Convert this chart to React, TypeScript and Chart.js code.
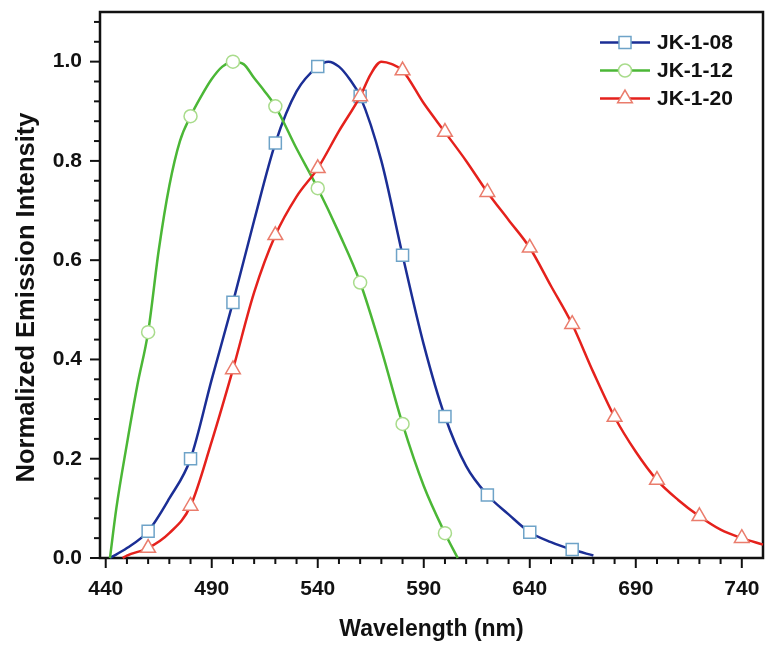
import React, { useEffect, useRef } from 'react';
import { Chart, registerables } from 'chart.js';

Chart.register(...registerables);

const FONT = '"Liberation Sans", Arial, Helvetica, sans-serif';

// ---- Data ----
const seriesNames = ['JK-1-08', 'JK-1-12', 'JK-1-20'];

const wl08 = [442, 450, 460, 470, 480, 490, 500, 510, 520, 530, 540, 545, 550, 555, 560, 570, 580, 590, 600, 610, 620, 630, 640, 650, 660, 670];
const int08 = [0, 0.02, 0.054, 0.12, 0.2, 0.36, 0.515, 0.68, 0.836, 0.94, 0.99, 1.0, 0.99, 0.965, 0.93, 0.8, 0.61, 0.43, 0.285, 0.185, 0.127, 0.088, 0.052, 0.032, 0.017, 0.005];

const wl12 = [442, 445, 450, 455, 460, 465, 470, 475, 480, 485, 490, 495, 500, 505, 510, 515, 520, 530, 540, 550, 560, 570, 580, 590, 600, 606];
const int12 = [0, 0.1, 0.23, 0.35, 0.455, 0.62, 0.75, 0.84, 0.89, 0.93, 0.965, 0.99, 1.0, 0.995, 0.967, 0.94, 0.91, 0.825, 0.745, 0.655, 0.555, 0.42, 0.27, 0.145, 0.05, 0];

const wl20 = [448, 450, 460, 470, 480, 490, 500, 510, 520, 530, 540, 550, 560, 565, 570, 575, 580, 590, 600, 610, 620, 630, 640, 650, 660, 670, 680, 690, 700, 710, 720, 730, 740, 750];
const int20 = [0, 0.005, 0.02, 0.05, 0.105, 0.235, 0.38, 0.535, 0.65, 0.728, 0.785, 0.86, 0.93, 0.975, 1.0, 0.995, 0.982, 0.916, 0.858, 0.8, 0.737, 0.681, 0.625, 0.548, 0.471, 0.374, 0.284, 0.214, 0.157, 0.117, 0.084, 0.057, 0.04, 0.027];

const xTickLabels = [440, 490, 540, 590, 640, 690, 740];
const yTickLabels = [0, 0.2, 0.4, 0.6, 0.8, 1.0];
const xMinorStep = 10;
const yMinorStep = 0.04;

const xTitle = 'Wavelength (nm)';
const yTitle = 'Normalized Emission Intensity';

// ---- Styles ----
const lineColors = ['#1b2e95', '#4bb736', '#e5211c'];
const markerColors = ['#6ea3c8', '#a9dc8c', '#ea7c6c'];
const markerStyles = ['rect', 'circle', 'triangle'];
const markerRadii = [8.5, 6.5, 8.5];

const isMarker = (x: number) => x >= 460 && x % 20 === 0;

function drawMarker(ctx: CanvasRenderingContext2D, style: string, x: number, y: number, r: number) {
  ctx.beginPath();
  if (style === 'rect') {
    const s = Math.SQRT1_2 * r;
    ctx.rect(x - s, y - s, 2 * s, 2 * s);
  } else if (style === 'circle') {
    ctx.arc(x, y, r, 0, Math.PI * 2);
  } else {
    let a = 0;
    ctx.moveTo(x + Math.sin(a) * r, y - Math.cos(a) * r);
    a += (2 * Math.PI) / 3;
    ctx.lineTo(x + Math.sin(a) * r, y - Math.cos(a) * r);
    a += (2 * Math.PI) / 3;
    ctx.lineTo(x + Math.sin(a) * r, y - Math.cos(a) * r);
    ctx.closePath();
  }
  ctx.fill();
  ctx.stroke();
}

const framePlugin = {
  id: 'frameTicks',
  beforeDatasetsDraw(chart: any) {
    const { ctx, chartArea: ca, scales } = chart;
    const xs = scales.x;
    const ys = scales.y;
    ctx.save();
    ctx.strokeStyle = '#111';
    ctx.lineWidth = 2;
    const x0 = xTickLabels[0];
    const xLast = xTickLabels[xTickLabels.length - 1];
    for (let v = x0; v <= xLast + 1e-6; v += xMinorStep) {
      const px = xs.getPixelForValue(v);
      const major = Math.abs((v - x0) % 50) < 1e-6;
      ctx.beginPath();
      ctx.moveTo(px, ca.bottom);
      ctx.lineTo(px, ca.bottom + (major ? 10 : 6));
      ctx.stroke();
    }
    for (let i = 0; i * yMinorStep <= 1.08 + 1e-6; i++) {
      const v = i * yMinorStep;
      const py = ys.getPixelForValue(v);
      const major = i % 5 === 0;
      ctx.beginPath();
      ctx.moveTo(ca.left, py);
      ctx.lineTo(ca.left - (major ? 10 : 6), py);
      ctx.stroke();
    }
    ctx.lineWidth = 2.5;
    ctx.strokeRect(ca.left, ca.top, ca.right - ca.left, ca.bottom - ca.top);

    // y-axis title (offset downward as in the reference)
    ctx.translate(ca.left - 73, (ca.top + ca.bottom) / 2 + 12.5);
    ctx.rotate(-Math.PI / 2);
    ctx.fillStyle = '#111';
    ctx.font = `bold 25.5px ${FONT}`;
    ctx.textAlign = 'center';
    ctx.textBaseline = 'middle';
    ctx.fillText(yTitle, 0, 0);
    ctx.restore();
  },
};

const legendPlugin = {
  id: 'lineLegend',
  afterDatasetsDraw(chart: any) {
    const { ctx, chartArea: ca } = chart;
    ctx.save();
    chart.data.datasets.forEach((ds: any, i: number) => {
      const y = ca.top + 30.5 + i * 28;
      const x0 = ca.right - 163;
      ctx.strokeStyle = ds.borderColor;
      ctx.lineWidth = 2.5;
      ctx.beginPath();
      ctx.moveTo(x0, y);
      ctx.lineTo(x0 + 50, y);
      ctx.stroke();
      ctx.fillStyle = '#fff';
      ctx.strokeStyle = markerColors[i];
      ctx.lineWidth = 1.5;
      drawMarker(ctx, markerStyles[i], x0 + 25, y, markerRadii[i]);
      ctx.fillStyle = '#111';
      ctx.font = `bold 21px ${FONT}`;
      ctx.textBaseline = 'middle';
      ctx.textAlign = 'left';
      ctx.fillText(ds.label, x0 + 57, y + 1);
    });
    ctx.restore();
  },
};

function makeDataset(i: number, wl: number[], vals: number[], order: number) {
  return {
    label: seriesNames[i],
    data: wl.map((x, k) => ({ x, y: vals[k] })),
    borderColor: lineColors[i],
    borderWidth: 2.5,
    pointStyle: markerStyles[i],
    pointRadius: (c: any) => (c.raw && isMarker(c.raw.x) ? markerRadii[i] : 0),
    pointHoverRadius: 0,
    pointBackgroundColor: '#ffffff',
    pointBorderColor: markerColors[i],
    pointBorderWidth: 1.5,
    cubicInterpolationMode: 'monotone',
    fill: false,
    clip: false,
    order,
  };
}

const zeroPad = (s: any) => {
  s.paddingLeft = 0;
  s.paddingRight = 0;
  s.paddingTop = 0;
  s.paddingBottom = 0;
};

export default function App() {
  const canvasRef = useRef<HTMLCanvasElement | null>(null);

  useEffect(() => {
    if (!canvasRef.current) return;
    const chart = new Chart(canvasRef.current, {
      type: 'line',
      data: {
        datasets: [
          makeDataset(0, wl08, int08, 3),
          makeDataset(1, wl12, int12, 2),
          makeDataset(2, wl20, int20, 1),
        ] as any,
      },
      options: {
        responsive: false,
        animation: false,
        devicePixelRatio: 1,
        events: [],
        layout: { padding: { top: 12, right: 6, left: 0, bottom: 0 } },
        plugins: {
          legend: { display: false },
          tooltip: { enabled: false },
        },
        scales: {
          x: {
            type: 'linear',
            min: 437.3,
            max: 750,
            grid: { display: false, drawTicks: false },
            border: { display: false },
            afterBuildTicks: (s: any) => {
              s.ticks = xTickLabels.map((v) => ({ value: v }));
            },
            afterFit: (s: any) => {
              s.height = 89;
              zeroPad(s);
            },
            ticks: {
              autoSkip: false,
              maxRotation: 0,
              padding: 19,
              color: '#111',
              font: { family: FONT, size: 21, weight: 'bold' },
              callback: (v: any) => String(v),
            },
            title: {
              display: true,
              text: xTitle,
              color: '#111',
              font: { family: FONT, size: 23, weight: 'bold' },
              padding: { top: 0, bottom: 4 },
            },
          },
          y: {
            type: 'linear',
            min: 0,
            max: 1.1,
            grid: { display: false, drawTicks: false },
            border: { display: false },
            afterBuildTicks: (s: any) => {
              s.ticks = yTickLabels.map((v) => ({ value: v }));
            },
            afterFit: (s: any) => {
              s.width = 100;
              zeroPad(s);
            },
            ticks: {
              padding: 18,
              color: '#111',
              font: { family: FONT, size: 21, weight: 'bold' },
              callback: (v: any) => Number(v).toFixed(1),
            },
            title: { display: false },
          },
        },
      } as any,
      plugins: [framePlugin, legendPlugin],
    });
    return () => chart.destroy();
  }, []);

  return (
    <div style={{ position: 'absolute', left: 0, top: 0, width: 769, height: 647, background: '#fff' }}>
      <canvas ref={canvasRef} width={769} height={647} style={{ display: 'block', width: 769, height: 647 }} />
    </div>
  );
}
